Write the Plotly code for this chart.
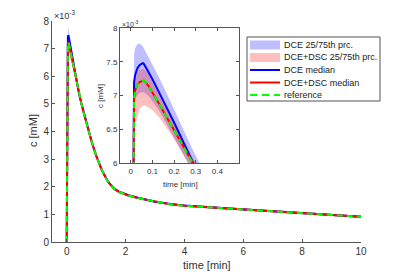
import plotly.graph_objects as go

# time [min]
t = [0, 0.015, 0.02, 0.03, 0.04, 0.055, 0.06, 0.08, 0.1, 0.13, 0.16, 0.2, 0.25, 0.29,
     0.35, 0.42, 0.5, 0.6, 0.7, 0.85, 1.0, 1.2, 1.4, 1.6, 1.8, 2.1, 2.5, 3.0, 3.5, 4, 5, 6, 7, 8, 9, 10]

# concentrations in units of 1e-3 mM
dce_median = [0, 7.2, 7.3, 7.4, 7.45, 7.48, 7.47, 7.36, 7.24, 7.05, 6.86, 6.6, 6.26, 5.99,
              5.69, 5.36, 5.01, 4.59, 4.19, 3.63, 3.13, 2.59, 2.19, 1.94, 1.81, 1.69, 1.58, 1.46, 1.38,
              1.32, 1.245, 1.18, 1.11, 1.04, 0.975, 0.91]
dce_p75 = [0, 7.62, 7.7, 7.76, 7.77, 7.73, 7.7, 7.58, 7.46, 7.27, 7.07, 6.8, 6.45, 6.17,
           5.8, 5.44, 5.07, 4.64, 4.24, 3.67, 3.17, 2.63, 2.23, 1.98, 1.85, 1.73, 1.62, 1.5, 1.42,
           1.36, 1.285, 1.22, 1.15, 1.08, 1.015, 0.95]
dce_p25 = [0, 6.9, 6.95, 7.0, 7.04, 7.05, 7.05, 7.0, 6.92, 6.78, 6.6, 6.38, 6.08, 5.85,
           5.58, 5.28, 4.95, 4.53, 4.14, 3.58, 3.08, 2.54, 2.14, 1.9, 1.77, 1.65, 1.54, 1.42, 1.34,
           1.28, 1.205, 1.14, 1.07, 1.0, 0.935, 0.87]
dsc_median = [0, 6.95, 7.08, 7.16, 7.2, 7.22, 7.22, 7.15, 7.05, 6.88, 6.71, 6.48, 6.2, 5.98,
              5.68, 5.35, 5.0, 4.58, 4.18, 3.62, 3.12, 2.58, 2.18, 1.93, 1.80, 1.68, 1.57, 1.46, 1.37,
              1.31, 1.24, 1.18, 1.11, 1.04, 0.97, 0.91]
dsc_p75 = [0, 7.1, 7.22, 7.32, 7.38, 7.4, 7.4, 7.32, 7.2, 7.02, 6.84, 6.6, 6.3, 6.06,
           5.74, 5.4, 5.05, 4.63, 4.23, 3.66, 3.16, 2.62, 2.22, 1.97, 1.84, 1.72, 1.61, 1.5, 1.41,
           1.35, 1.28, 1.22, 1.15, 1.08, 1.01, 0.95]
dsc_p25 = [0, 6.4, 6.55, 6.68, 6.8, 6.85, 6.86, 6.83, 6.78, 6.68, 6.55, 6.36, 6.08, 5.88,
           5.6, 5.29, 4.94, 4.53, 4.13, 3.57, 3.07, 2.53, 2.13, 1.89, 1.76, 1.64, 1.53, 1.42, 1.33,
           1.27, 1.2, 1.14, 1.07, 1.0, 0.93, 0.87]
reference = [0, 6.95, 7.08, 7.16, 7.2, 7.22, 7.22, 7.15, 7.05, 6.88, 6.71, 6.48, 6.2, 5.98,
             5.68, 5.35, 5.0, 4.58, 4.18, 3.62, 3.12, 2.58, 2.18, 1.93, 1.80, 1.68, 1.57, 1.46, 1.37,
             1.31, 1.24, 1.18, 1.11, 1.04, 0.97, 0.91]

main_xticks = [0, 2, 4, 6, 8, 10]
main_yticks = [0, 1, 2, 3, 4, 5, 6, 7, 8]
inset_xticks = [0, 0.1, 0.2, 0.3, 0.4]
inset_yticks = [6, 6.5, 7, 7.5, 8]

legend_labels = ["DCE 25/75th prc.", "DCE+DSC 25/75th prc.", "DCE median",
                 "DCE+DSC median", "reference"]

FONT = "Liberation Sans, Arial, sans-serif"
TXT = "#333333"
AX = "#555555"
BLUE_FILL = "rgba(0,0,255,0.25)"
RED_FILL = "rgba(255,0,0,0.25)"

# the page body has an 8px margin; the figure is sized so it fills the 400x273 window
OFF = 8
W, H = 400 - OFF, 273 - OFF
ML, MT = 52 - OFF, 21 - OFF
MR = W - (361 - OFF)
MB = H - (242 - OFF)
PW, PH = W - ML - MR, H - MT - MB


def px(x):
    return (x - OFF - ML) / PW


def py(y):
    return (H - MB - (y - OFF)) / PH


fig = go.Figure()


def add_set(xa, ya):
    fig.add_trace(go.Scatter(x=t + t[::-1], y=dce_p75 + dce_p25[::-1], fill="toself",
                             fillcolor=BLUE_FILL, line=dict(width=0), mode="lines",
                             name=legend_labels[0], xaxis=xa, yaxis=ya, hoverinfo="skip"))
    fig.add_trace(go.Scatter(x=t + t[::-1], y=dsc_p75 + dsc_p25[::-1], fill="toself",
                             fillcolor=RED_FILL, line=dict(width=0), mode="lines",
                             name=legend_labels[1], xaxis=xa, yaxis=ya, hoverinfo="skip"))
    fig.add_trace(go.Scatter(x=t, y=dce_median, mode="lines", line=dict(color="#0000ff", width=2),
                             name=legend_labels[2], xaxis=xa, yaxis=ya))
    fig.add_trace(go.Scatter(x=t, y=dsc_median, mode="lines", line=dict(color="#ff0000", width=2),
                             name=legend_labels[3], xaxis=xa, yaxis=ya))
    fig.add_trace(go.Scatter(x=t, y=reference, mode="lines",
                             line=dict(color="#00ff00", width=2, dash="6px,4px"),
                             name=legend_labels[4], xaxis=xa, yaxis=ya))


add_set("x", "y")
add_set("x2", "y2")

axis_common = dict(showgrid=False, zeroline=False, showline=True, linecolor=AX, linewidth=1,
                   ticks="inside", tickcolor=AX, ticklen=3, tickwidth=1)

fig.update_layout(
    width=W, height=H,
    margin=dict(l=ML, r=MR, t=MT, b=MB, autoexpand=False),
    paper_bgcolor="white", plot_bgcolor="white",
    showlegend=False,
    font=dict(family=FONT, size=10, color=TXT),
    xaxis=dict(domain=[0, 1], range=[-0.5, 10], tickvals=main_xticks,
               tickfont=dict(family=FONT, color=TXT, size=10), **axis_common),
    yaxis=dict(domain=[0, 1], range=[0, 8], tickvals=main_yticks,
               tickfont=dict(family=FONT, color=TXT, size=10), **axis_common),
    xaxis2=dict(domain=[px(120), px(239)], range=[-0.05, 0.5], tickvals=inset_xticks, anchor="y2",
                mirror="ticks", tickfont=dict(family=FONT, color=TXT, size=8), **axis_common),
    yaxis2=dict(domain=[py(163), py(28)], range=[6, 8], tickvals=inset_yticks, anchor="x2",
                mirror="ticks", tickfont=dict(family=FONT, color=TXT, size=8), **axis_common),
)

annotations = [
    dict(text="×10<sup>-3</sup>", x=0, y=1, xref="paper", yref="paper", xanchor="left",
         yanchor="bottom", showarrow=False, font=dict(size=9, color=TXT, family=FONT), yshift=-2),
    dict(text="×10<sup>-3</sup>", x=px(120), y=py(28), xref="paper", yref="paper", xanchor="left",
         yanchor="bottom", showarrow=False, font=dict(size=7, color=TXT, family=FONT), yshift=-2),
    dict(text="time [min]", x=0.5, y=py(265), xref="paper", yref="paper", xanchor="center",
         yanchor="middle", showarrow=False, font=dict(size=11, color=TXT, family=FONT)),
    dict(text="c [mM]", x=px(33), y=py(131), xref="paper", yref="paper", xanchor="center",
         yanchor="middle", showarrow=False, textangle=-90, font=dict(size=11, color=TXT, family=FONT)),
    dict(text="time [min]", x=px(180), y=py(184), xref="paper", yref="paper", xanchor="center",
         yanchor="middle", showarrow=False, font=dict(size=8, color=TXT, family=FONT)),
    dict(text="c [mM]", x=px(100), y=py(96), xref="paper", yref="paper", xanchor="center",
         yanchor="middle", showarrow=False, textangle=-90, font=dict(size=8, color=TXT, family=FONT)),
]

# custom legend (compact rows like the reference)
shapes = [dict(type="rect", xref="paper", yref="paper", x0=px(247), x1=px(380), y0=py(101), y1=py(37),
               line=dict(color="#555555", width=1), fillcolor="white", layer="above")]
row_y = [45, 57.5, 70, 82.5, 95]
sym_x0, sym_x1 = 250, 280
shapes.append(dict(type="rect", xref="paper", yref="paper", x0=px(sym_x0), x1=px(sym_x1),
                   y0=py(row_y[0] + 4.5), y1=py(row_y[0] - 4.5), line=dict(width=0),
                   fillcolor=BLUE_FILL, layer="above"))
shapes.append(dict(type="rect", xref="paper", yref="paper", x0=px(sym_x0), x1=px(sym_x1),
                   y0=py(row_y[1] + 4.5), y1=py(row_y[1] - 4.5), line=dict(width=0),
                   fillcolor=RED_FILL, layer="above"))
shapes.append(dict(type="line", xref="paper", yref="paper", x0=px(sym_x0), x1=px(sym_x1),
                   y0=py(row_y[2]), y1=py(row_y[2]), line=dict(color="#0000ff", width=2), layer="above"))
shapes.append(dict(type="line", xref="paper", yref="paper", x0=px(sym_x0), x1=px(sym_x1),
                   y0=py(row_y[3]), y1=py(row_y[3]), line=dict(color="#ff0000", width=2), layer="above"))
shapes.append(dict(type="line", xref="paper", yref="paper", x0=px(sym_x0), x1=px(sym_x1),
                   y0=py(row_y[4]), y1=py(row_y[4]),
                   line=dict(color="#00ff00", width=2, dash="7px,5px"), layer="above"))
for lab, ry in zip(legend_labels, row_y):
    annotations.append(dict(text=lab, x=px(282), y=py(ry), xref="paper", yref="paper",
                            xanchor="left", yanchor="middle", showarrow=False,
                            font=dict(size=9, color="#222222", family=FONT)))

fig.update_layout(annotations=annotations, shapes=shapes)

fig.write_html("out.html")
